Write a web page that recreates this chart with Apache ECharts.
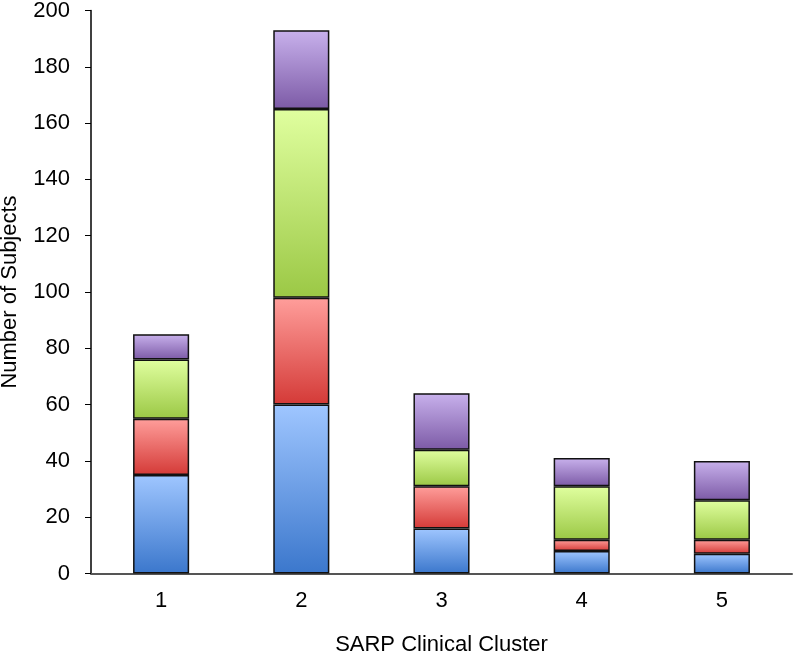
<!DOCTYPE html>
<html><head><meta charset="utf-8">
<script src="https://cdn.jsdelivr.net/npm/echarts@6/dist/echarts.min.js"></script>
<style>html,body{margin:0;padding:0;background:#fff}#c{width:793px;height:656px}</style>
</head><body><div id="c"></div>
<script>
const categories = ['1','2','3','4','5'];
const seriesBlue = [35, 60, 16, 8, 7];
const seriesRed = [20, 38, 15, 4, 5];
const seriesGreen = [21, 67, 13, 19, 14];
const seriesPurple = [9, 28, 20, 10, 14];

function grad(top, bottom){
  return new echarts.graphic.LinearGradient(0,0,0,1,[{offset:0,color:top},{offset:1,color:bottom}]);
}
const defs = [
  {name:'Blue', data:seriesBlue, c:grad('#9fc6ff','#3b77cc')},
  {name:'Red', data:seriesRed, c:grad('#ff9e9b','#d43a37')},
  {name:'Green', data:seriesGreen, c:grad('#e0ff9f','#9bc845')},
  {name:'Purple', data:seriesPurple, c:grad('#c8b1ec','#7c5aa6')}
];
const chart = echarts.init(document.getElementById('c'));
chart.setOption({
  animation:false,
  grid:{left:91,right:1,top:10.5,bottom:82.5,containLabel:false,outerBoundsMode:'none'},
  xAxis:{type:'category',data:categories,
    name:'SARP Clinical Cluster',nameLocation:'middle',nameGap:60,
    nameTextStyle:{fontFamily:'Liberation Sans',fontSize:22,color:'#000'},
    axisLine:{lineStyle:{color:'#555',width:2}},axisTick:{show:false},
    axisLabel:{fontFamily:'Liberation Sans',fontSize:22,color:'#000',margin:16}},
  yAxis:{type:'value',min:0,max:200,interval:20,
    name:'Number of Subjects',nameLocation:'middle',nameGap:70,
    nameTextStyle:{fontFamily:'Liberation Sans',fontSize:22,color:'#000'},
    axisLine:{show:true,lineStyle:{color:'#000',width:1.5}},
    axisTick:{show:true,inside:false,length:6,lineStyle:{color:'#000'}},
    splitLine:{show:false},
    axisLabel:{fontFamily:'Liberation Sans',fontSize:22,color:'#000',margin:21}},
  series: defs.map(d=>({type:'bar',name:d.name,stack:'s',data:d.data,barWidth:'40%',
    itemStyle:{color:d.c,borderColor:'#111',borderWidth:1.5}}))
});
</script></body></html>
